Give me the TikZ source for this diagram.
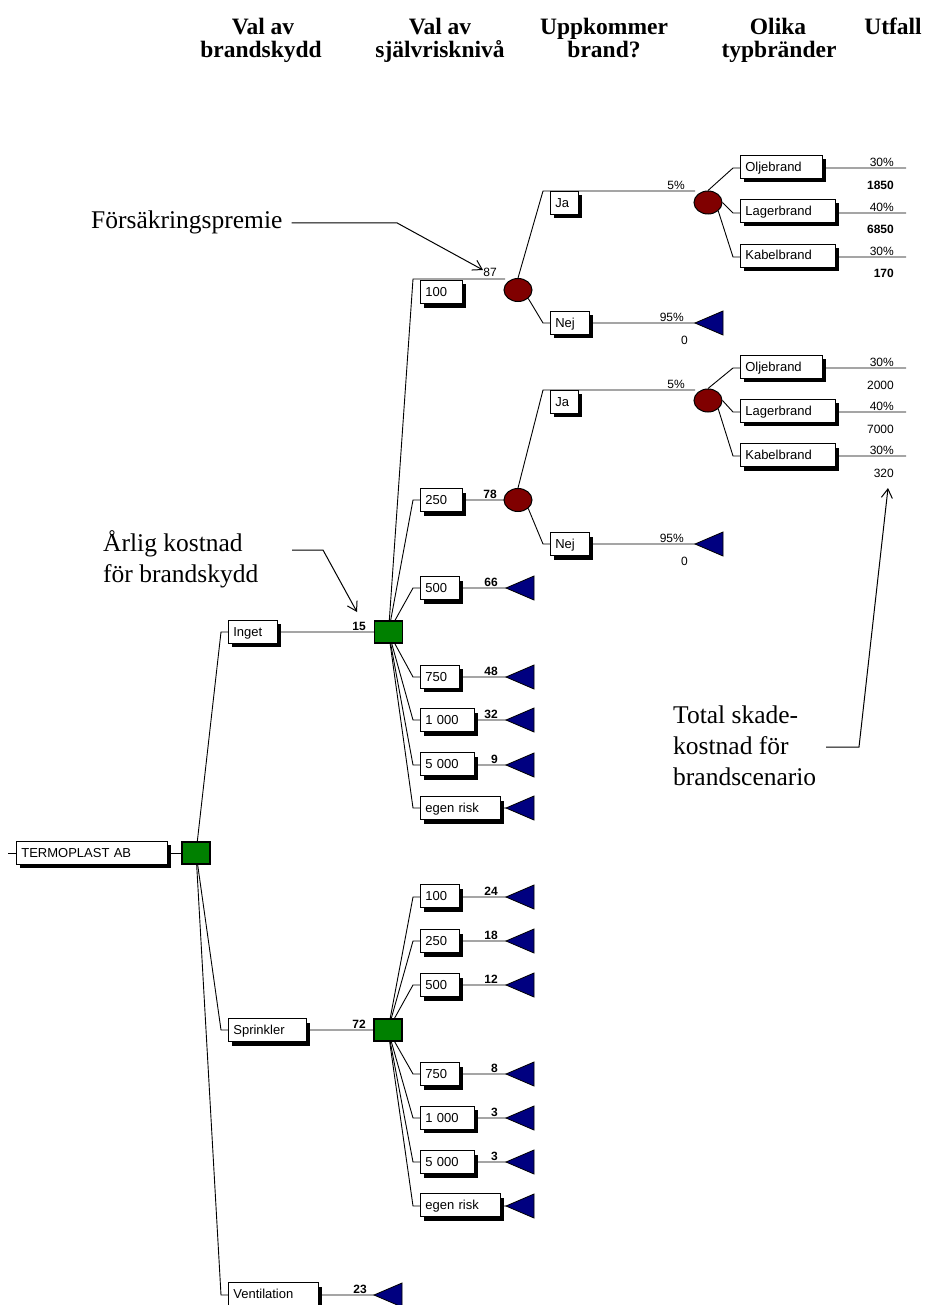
\documentclass[tikz,border=0pt]{standalone}
\usepackage{fontspec}
\setmainfont{Liberation Serif}
\newfontfamily\arialf{Liberation Sans}
\usetikzlibrary{shapes.geometric,shadows,arrows.meta,backgrounds}
\definecolor{decgreen}{HTML}{008000}
\definecolor{chred}{HTML}{800000}
\definecolor{termblue}{HTML}{000080}
\newcommand\boxfont{\arialf\fontsize{13}{15}\selectfont}
\newcommand\numfont{\arialf\fontsize{12}{14}\selectfont}
\newcommand\numbfont{\arialf\bfseries\fontsize{12}{14}\selectfont}
\newcommand\hdfont{\bfseries\fontsize{23.5}{23}\selectfont}
\newcommand\annfont{\fontsize{25.5}{31}\selectfont}
\newcommand\bx[5]{\node[lbox,text width=#4pt] (#1) at (#2,#3) {#5};}
\begin{document}
\begin{tikzpicture}[x=1pt,y=-1pt,
  lbox/.style={draw=black,line width=0.7pt,fill=white,font=\boxfont,anchor=west,
    minimum height=23pt,inner xsep=5pt,inner ysep=0pt,text height=9pt,text depth=0pt,align=left,
    drop shadow={shadow xshift=4pt,shadow yshift=-4pt,fill=black,opacity=1,draw=none}},
  dec/.style={draw=black,line width=1.3pt,fill=decgreen,minimum width=28pt,minimum height=22pt,inner sep=0pt},
  chance/.style={ellipse,draw=black,line width=1pt,fill=chred,minimum width=28pt,minimum height=23pt,inner sep=0pt},
  termst/.style={draw=black,line width=0.8pt,fill=termblue},
  num/.style={font=\numfont,inner sep=0pt,anchor=base east},
  numb/.style={num,font=\numbfont},
  br/.style={line width=0.9pt,draw=black},
  head/.style={font=\hdfont,inner sep=0pt,anchor=base},
  ann/.style={font=\annfont,inner sep=0pt,anchor=base west},
  annarrow/.style={line width=1pt,-{Straight Barb[length=9pt,width=11pt]}}
]
\useasboundingbox (0,0) rectangle (930,1305);

% headings
\node[head] (h1a) at (263,35) {Val av};
\node[head] (h1b) at (261,58) {brandskydd};
\node[head] (h2a) at (440,35) {Val av};
\node[head] (h2b) at (440,58) {självrisknivå};
\node[head] (h3a) at (604,35) {Uppkommer};
\node[head] (h3b) at (604,58) {brand?};
\node[head] (h4a) at (778,35) {Olika};
\node[head] (h4b) at (779,58) {typbränder};
\node[head] (h5a) at (893,35) {Utfall};

% decision nodes
\node[dec] (D0) at (196,853) {};
\node[dec] (D1) at (388.5,632) {};
\node[dec] (D2) at (388,1030) {};
% chance nodes
\node[chance] (C1) at (518,290) {};
\node[chance] (C2) at (518,500) {};
\node[chance] (C3) at (708,202.5) {};
\node[chance] (C4) at (708,400.5) {};

% label boxes
\bx{root}{16}{852.5}{141}{TERMOPLAST AB}
\bx{inget}{228}{631.5}{39}{Inget}
\bx{spr}{228}{1030}{68}{Sprinkler}
\bx{vent}{228}{1294}{80}{Ventilation}
\bx{a100}{420}{292}{32}{100}
\bx{a250}{420}{500}{32}{250}
\bx{a500}{420}{588}{29}{500}
\bx{a750}{420}{676.5}{29}{750}
\bx{a1000}{420}{720}{44}{1 000}
\bx{a5000}{420}{764}{44}{5 000}
\bx{aeg}{420}{808}{70}{egen risk}
\bx{b100}{420}{896}{29}{100}
\bx{b250}{420}{941}{29}{250}
\bx{b500}{420}{985}{29}{500}
\bx{b750}{420}{1074}{29}{750}
\bx{b1000}{420}{1117.5}{44}{1 000}
\bx{b5000}{420}{1162}{44}{5 000}
\bx{beg}{420}{1205}{70}{egen risk}
\bx{ja1}{550}{203}{18}{Ja}
\bx{nej1}{550}{322.5}{29}{Nej}
\bx{ja2}{550}{401.5}{18}{Ja}
\bx{nej2}{550}{544}{29}{Nej}
\bx{olj1}{740}{167}{72}{Oljebrand}
\bx{lag1}{740}{211}{85}{Lagerbrand}
\bx{kab1}{740}{255.5}{85}{Kabelbrand}
\bx{olj2}{740}{366.5}{72}{Oljebrand}
\bx{lag2}{740}{410.5}{85}{Lagerbrand}
\bx{kab2}{740}{455}{85}{Kabelbrand}

% coordinates
\coordinate (rstub) at (8,853);
\coordinate (bpI) at (221,632);
\coordinate (bpS) at (221,1030);
\coordinate (bpV) at (221,1295);
\coordinate (tV) at (374,1295);
\coordinate (bpa100) at (413,279);
\coordinate (c1in) at (505,279);
\coordinate (bpa250) at (413,500);
\coordinate (bpa500) at (413,588);   \coordinate (ta500) at (506,588);
\coordinate (bpa750) at (413,677);   \coordinate (ta750) at (506,677);
\coordinate (bpa1000) at (413,720);  \coordinate (ta1000) at (506,720);
\coordinate (bpa5000) at (413,765);  \coordinate (ta5000) at (506,765);
\coordinate (bpaeg) at (413,808);    \coordinate (taeg) at (506,808);
\coordinate (bpb100) at (413,897);   \coordinate (tb100) at (506,897);
\coordinate (bpb250) at (413,941);   \coordinate (tb250) at (506,941);
\coordinate (bpb500) at (413,985);   \coordinate (tb500) at (506,985);
\coordinate (bpb750) at (413,1074);  \coordinate (tb750) at (506,1074);
\coordinate (bpb1000) at (413,1118); \coordinate (tb1000) at (506,1118);
\coordinate (bpb5000) at (413,1162); \coordinate (tb5000) at (506,1162);
\coordinate (bpbeg) at (413,1206);   \coordinate (tbeg) at (506,1206);
\coordinate (bpJ1) at (543,191);  \coordinate (c3in) at (695,191);
\coordinate (bpN1) at (543,323);  \coordinate (tN1) at (695,323);
\coordinate (bpJ2) at (543,390);  \coordinate (c4in) at (695,390);
\coordinate (bpN2) at (543,544);  \coordinate (tN2) at (695,544);
\coordinate (bpO1) at (733,168);  \coordinate (eO1) at (906,168);
\coordinate (bpL1) at (733,213);  \coordinate (eL1) at (906,213);
\coordinate (bpK1) at (733,257);  \coordinate (eK1) at (906,257);
\coordinate (bpO2) at (733,368);  \coordinate (eO2) at (906,368);
\coordinate (bpL2) at (733,412);  \coordinate (eL2) at (906,412);
\coordinate (bpK2) at (733,456);  \coordinate (eK2) at (906,456);

% terminal nodes
\foreach \t in {tV,ta500,ta750,ta1000,ta5000,taeg,tb100,tb250,tb500,tb750,tb1000,tb5000,tbeg,tN1,tN2}
  {\filldraw[termst] (\t) -- ++(28,-12) -- ++(0,24) -- cycle;}

% connectors
\begin{scope}[on background layer]
\draw[br] (rstub) -- (D0.center);
\draw[br] (D0.center) -- (bpI) -- (D1.center);
\draw[br] (D0.center) -- (bpS) -- (D2.center);
\draw[br] (D0.center) -- (bpV) -- (tV);
\draw[br] (D1.center) -- (bpa100) -- (c1in);
\draw[br] (D1.center) -- (bpa250) -- (C2.center);
\draw[br] (D1.center) -- (bpa500) -- (ta500);
\draw[br] (D1.center) -- (bpa750) -- (ta750);
\draw[br] (D1.center) -- (bpa1000) -- (ta1000);
\draw[br] (D1.center) -- (bpa5000) -- (ta5000);
\draw[br] (D1.center) -- (bpaeg) -- (taeg);
\draw[br] (D2.center) -- (bpb100) -- (tb100);
\draw[br] (D2.center) -- (bpb250) -- (tb250);
\draw[br] (D2.center) -- (bpb500) -- (tb500);
\draw[br] (D2.center) -- (bpb750) -- (tb750);
\draw[br] (D2.center) -- (bpb1000) -- (tb1000);
\draw[br] (D2.center) -- (bpb5000) -- (tb5000);
\draw[br] (D2.center) -- (bpbeg) -- (tbeg);
\draw[br] (C1.north) -- (bpJ1) -- (c3in);
\draw[br] (C1.south east) -- (bpN1) -- (tN1);
\draw[br] (C2.north) -- (bpJ2) -- (c4in);
\draw[br] (C2.south east) -- (bpN2) -- (tN2);
\draw[br] (C3.north) -- (bpO1) -- (eO1);
\draw[br] (C3.east) -- (bpL1) -- (eL1);
\draw[br] (C3.south east) -- (bpK1) -- (eK1);
\draw[br] (C4.north) -- (bpO2) -- (eO2);
\draw[br] (C4.east) -- (bpL2) -- (eL2);
\draw[br] (C4.south east) -- (bpK2) -- (eK2);
\end{scope}

% values
\node[num] (v87) at (497,277) {87};
\node[numb] (v78) at (497,498) {78};
\node[numb] (v15) at (366,630.5) {15};
\node[numb] (v72) at (366,1028.5) {72};
\node[numb] (v23) at (367,1293.5) {23};
\node[numb] (v66) at (498,586.5) {66};
\node[numb] (v48) at (498,675.5) {48};
\node[numb] (v32) at (498,718.5) {32};
\node[numb] (v9) at (498,763.5) {9};
\node[numb] (v24) at (498,895.5) {24};
\node[numb] (v18) at (498,939.5) {18};
\node[numb] (v12) at (498,983.5) {12};
\node[numb] (v8) at (498,1072.5) {8};
\node[numb] (v3a) at (498,1116.5) {3};
\node[numb] (v3b) at (498,1160.5) {3};
\node[num] (p5a) at (685,189.5) {5\%};
\node[num] (p95a) at (684,321.5) {95\%};
\node[num] (z0a) at (688,344) {0};
\node[num] (p5b) at (685,388.5) {5\%};
\node[num] (p95b) at (684,542.5) {95\%};
\node[num] (z0b) at (688,565) {0};
\node[num] (po1) at (894,166.5) {30\%};
\node[numb] (vo1) at (894,190) {1850};
\node[num] (pl1) at (894,211.5) {40\%};
\node[numb] (vl1) at (894,234) {6850};
\node[num] (pk1) at (894,255.5) {30\%};
\node[numb] (vk1) at (894,278) {170};
\node[num] (po2) at (894,366.5) {30\%};
\node[num] (vo2) at (894,389) {2000};
\node[num] (pl2) at (894,410.5) {40\%};
\node[num] (vl2) at (894,433) {7000};
\node[num] (pk2) at (894,454.5) {30\%};
\node[num] (vk2) at (894,477) {320};

% annotations
\node[ann] (an1) at (91,229) {Försäkringspremie};
\coordinate (an1k) at (388,223);
\coordinate (an1t) at (483,270);
\draw[annarrow] ([xshift=9pt]an1.east) -- ([xshift=9pt]an1.east -| an1k) -- (an1t);

\node[ann] (an2a) at (103,551) {Årlig kostnad};
\node[ann] (an2b) at (103,582) {för brandskydd};
\coordinate (an2s) at (292,550);
\coordinate (an2k) at (323,550);
\coordinate (an2t) at (357,612);
\draw[annarrow] (an2s) -- (an2k) -- (an2t);

\node[ann] (an3a) at (673,723) {Total skade-};
\node[ann] (an3b) at (673,754) {kostnad för};
\node[ann] (an3c) at (673,785) {brandscenario};
\coordinate (an3s) at (826,747);
\coordinate (an3k) at (859,747);
\coordinate (an3t) at (888,488);
\draw[annarrow] (an3s) -- (an3k) -- (an3t);
\end{tikzpicture}
\end{document}
